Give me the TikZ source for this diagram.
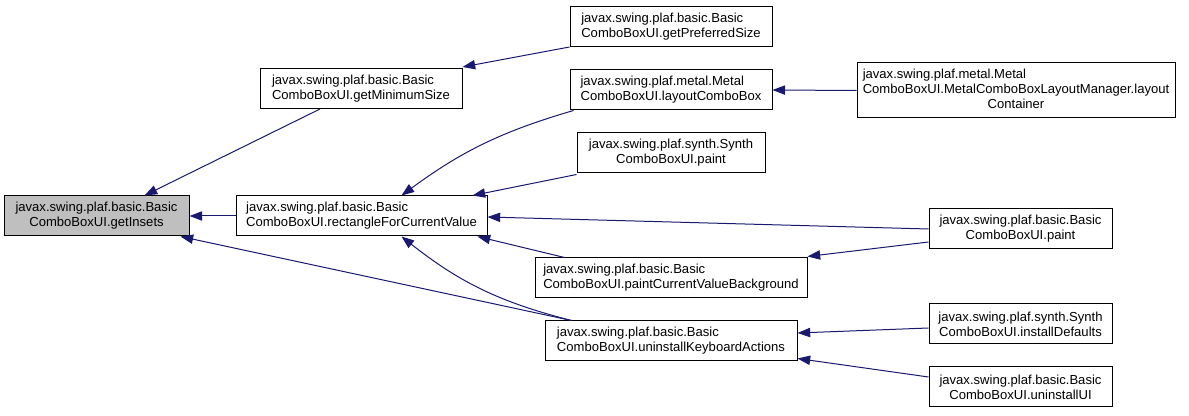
\documentclass[tikz,border=0pt]{standalone}
\usepackage{fontspec}
\setmainfont{Liberation Sans}
\usepackage{xcolor}
\usepackage{tikz}
\usetikzlibrary{positioning,arrows.meta,calc}

\definecolor{edgeblue}{HTML}{191970}
\definecolor{focusgray}{HTML}{BFBFBF}

\begin{document}
\begin{tikzpicture}[
      x=0.75pt, y=-0.75pt,
      every node/.style={font=\fontsize{9.8pt}{11.4pt}\selectfont},
      fbox/.style={draw, line width=0.75pt, inner sep=0pt, minimum height=30pt, align=center},
      lbox/.style={fbox, align=left},
      call/.style={draw=edgeblue, line width=0.75pt, -{Triangle[length=9.5pt, width=7pt]}},
    ]
    \useasboundingbox (0,0) rectangle (1189,416);

    % --- function being called ---
    \node[fbox, fill=focusgray, minimum width=138.75pt] (insets) at (96.5,216)
      {javax.swing.plaf.basic.Basic\\ComboBoxUI.getInsets};

    % --- first level callers ---
    \node[lbox, minimum width=151.5pt] (minsize) at (361,88.5)
      {javax.swing.plaf.basic.Basic\\ComboBoxUI.getMinimumSize};
    \node[lbox, minimum width=188.25pt] (rectcur) at (361.5,216)
      {javax.swing.plaf.basic.Basic\\ComboBoxUI.rectangleForCurrentValue};
    \node[lbox, minimum width=189pt] (uninstkb) at (671,341)
      {javax.swing.plaf.basic.Basic\\ComboBoxUI.uninstallKeyboardActions};

    % --- second level callers ---
    \node[lbox, minimum width=151.5pt] (prefsize) at (671,26.5)
      {javax.swing.plaf.basic.Basic\\ComboBoxUI.getPreferredSize};
    \node[lbox, minimum width=151.5pt] (layoutcb) at (671,90)
      {javax.swing.plaf.metal.Metal\\ComboBoxUI.layoutComboBox};
    \node[fbox, minimum width=141pt] (synthpaint) at (671,153)
      {javax.swing.plaf.synth.Synth\\ComboBoxUI.paint};
    \node[lbox, minimum width=204pt] (paintbg) at (671,278)
      {javax.swing.plaf.basic.Basic\\ComboBoxUI.paintCurrentValueBackground};

    % --- third level callers ---
    \node[fbox, minimum width=238.5pt, minimum height=41.25pt] (layoutcont) at (1016,90.5)
      {\begin{tabular}{@{}l@{}}javax.swing.plaf.metal.Metal\\
        ComboBoxUI.MetalComboBoxLayoutManager.layout\\
        \multicolumn{1}{@{}c@{}}{Container}\end{tabular}};
    \node[fbox, minimum width=137.25pt] (basicpaint) at (1020.5,229)
      {javax.swing.plaf.basic.Basic\\ComboBoxUI.paint};
    \node[fbox, minimum width=137.25pt] (instdef) at (1020.5,324)
      {javax.swing.plaf.synth.Synth\\ComboBoxUI.installDefaults};
    \node[fbox, minimum width=137.25pt] (uninstui) at (1020.5,387)
      {javax.swing.plaf.basic.Basic\\ComboBoxUI.uninstallUI};

    % --- calls into getInsets ---
    \draw[call] ($(minsize.south)+(-41,0)$) -- ($(insets.north)+(48,0)$);
    \draw[call] (rectcur.west) -- (insets.east);
    \draw[call] ($(uninstkb.north west)+(27,0)$) -- ($(insets.south east)+(-9,0)$);

    % --- calls into getMinimumSize / rectangleForCurrentValue ---
    \draw[call] (prefsize.south west) -- ($(minsize.north east)+(0,-1)$);
    \draw[call] ($(layoutcb.south west)+(4,0)$) to[bend right=10] ($(rectcur.north)+(40,0)$);
    \draw[call] ($(synthpaint.south west)+(0,1)$) -- ($(rectcur.north east)+(-15,0)$);
    \draw[call] (basicpaint.west) -- ($(rectcur.east)+(0,1)$);
    \draw[call] ($(paintbg.north west)+(30,0)$) -- ($(rectcur.south east)+(-10,0)$);
    \draw[call] ($(uninstkb.north west)+(27,0)$) to[bend left=12] ($(rectcur.south)+(40,0)$);

    % --- calls into layoutComboBox / paintCurrentValueBackground / uninstallKeyboardActions ---
    \draw[call] (layoutcont.west) -- (layoutcb.east);
    \draw[call] ($(basicpaint.west)+(0,13)$) -- ($(paintbg.north east)+(0,-1)$);
    \draw[call] ($(instdef.west)+(0,4)$) -- ($(uninstkb.east)+(0,-8)$);
    \draw[call] ($(uninstui.west)+(0,-10)$) -- ($(uninstkb.south east)+(0,-3)$);
  \end{tikzpicture}
\end{document}
